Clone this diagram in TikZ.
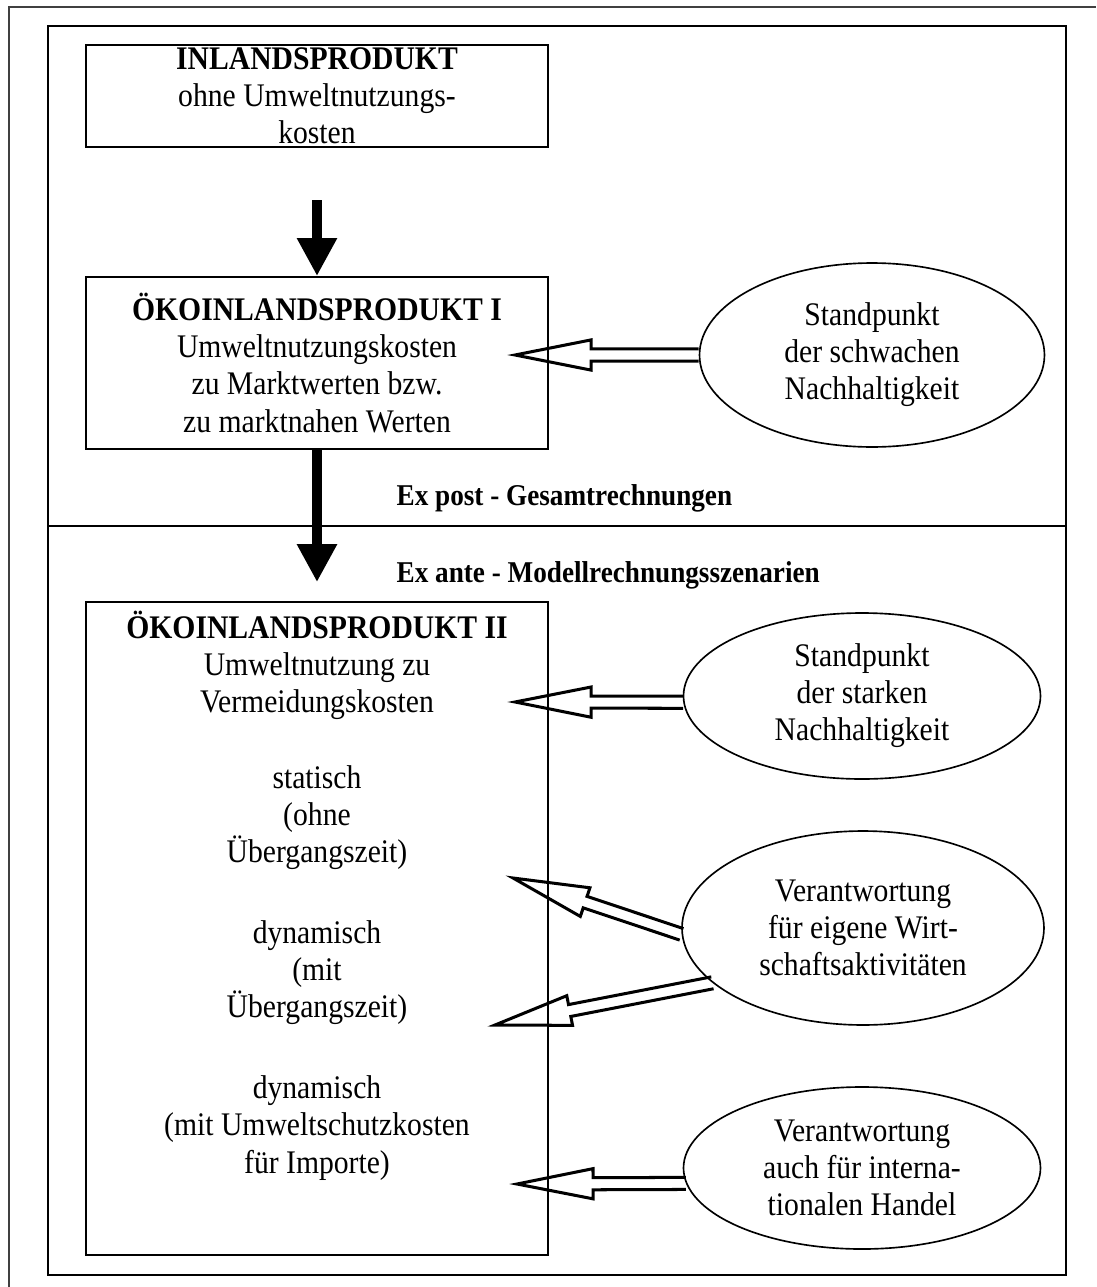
\documentclass[tikz,border=0pt]{standalone}
\usepackage{fontspec}
\setmainfont{Liberation Serif}[FakeStretch=0.9]
\usetikzlibrary{arrows.meta,calc,shapes.geometric}

\tikzset{
	kasten/.style={draw, line width=0.75pt, inner sep=0pt, minimum width=5.914cm},
	oval/.style={draw, ellipse, line width=0.6pt, inner sep=0pt},
	txt/.style={align=center, font=\fontsize{12}{13.5}\selectfont},
	hohl/.style={line width=1.1pt, line join=miter},
	dick/.style={line width=3.3pt, -{Triangle[length=13.8pt,width=13.8pt]}},
	extxt/.style={anchor=west, font=\fontsize{11}{13}\selectfont\bfseries}
}
% Hohlpfeil von #1 (Ende) nach #2 (Spitze)
\newcommand{\hohlpfeil}[2]{%
	\path (#1) coordinate (t) (#2) coordinate (h);
	\path ($(h)!27.7pt!(t)$) coordinate (n);
	\draw[hohl] ($(t)!2.2pt!90:(h)$) -- ($(n)!2.2pt!90:(h)$) -- ($(n)!5.5pt!90:(h)$) -- (h)
		-- ($(n)!5.5pt!-90:(h)$) -- ($(n)!2.2pt!-90:(h)$) -- ($(t)!2.2pt!-90:(h)$);
}

\begin{document}
\begin{tikzpicture}[x=0.0128cm, y=-0.0128cm]
		\useasboundingbox (0,0) rectangle (1096,1287);
		% Rahmen
		\draw [line width=0.6pt, black!75] (9,1287) -- (9,7) -- (1096,7);
		\draw [line width=0.75pt] (48,26) rectangle (1066,1275);
		\draw [line width=0.75pt] (48,526) -- (1066,526);
		% Kaesten
		\node [kasten, txt, minimum height=1.306cm] (b1) at (317,96) {\textbf{INLANDSPRODUKT}\\ohne Umweltnutzungs-\\kosten};
		\node [kasten, txt, minimum height=2.202cm] (b2) at (317,363) {\textbf{ÖKOINLANDSPRODUKT I}\\Umweltnutzungskosten\\zu Marktwerten bzw.\\zu marktnahen Werten};
		\node [kasten, minimum height=8.358cm] (b3) at (317,928.5) {};
		\node [txt] (b3a) at (317,665) {\textbf{ÖKOINLANDSPRODUKT II}\\Umweltnutzung zu\\Vermeidungskosten};
		\node [txt] (b3b) at (317,818) {statisch\\(ohne\\Übergangszeit)};
		\node [txt] (b3c) at (317,973) {dynamisch\\(mit\\Übergangszeit)};
		\node [txt] (b3d) at (317,1128) {dynamisch\\(mit Umweltschutzkosten\\für Importe)};
		% Ellipsen
		\node [oval, txt, minimum width=4.416cm, minimum height=2.355cm] (e1) at (872,355) {Standpunkt\\der schwachen\\Nachhaltigkeit};
		\node [oval, txt, minimum width=4.57cm, minimum height=2.125cm] (e2) at (862,696) {Standpunkt\\der starken\\Nachhaltigkeit};
		\node [oval, txt, minimum width=4.634cm, minimum height=2.483cm] (e3) at (863,928) {Verantwortung\\für eigene Wirt-\\schaftsaktivitäten};
		\node [oval, txt, minimum width=4.57cm, minimum height=2.074cm] (e4) at (862,1168) {Verantwortung\\auch für interna-\\tionalen Handel};
		% Pfeile
		\draw [dick] ($(b1.south)+(0,52)$) -- (b2.north);
		\draw [dick] (b2.south) -- ($(b3.north)+(0,-19)$);
		\coordinate (p1) at (515,355);
		\coordinate (p2) at (515,702);
		\coordinate (p3) at (513,878);
		\coordinate (p4) at (495,1025);
		\coordinate (p5) at (517,1184);
		\hohlpfeil{e1.west}{p1}
		\hohlpfeil{e2.182}{p2}
		\hohlpfeil{e3.182}{p3}
		\hohlpfeil{e3.200}{p4}
		\hohlpfeil{e4.185}{p5}
		% Texte
		\node [extxt] (expost) at (387,498) {Ex post - Gesamtrechnungen};
		\node [extxt] (exante) at (387,575) {Ex ante - Modellrechnungsszenarien};
	\end{tikzpicture}
\end{document}
